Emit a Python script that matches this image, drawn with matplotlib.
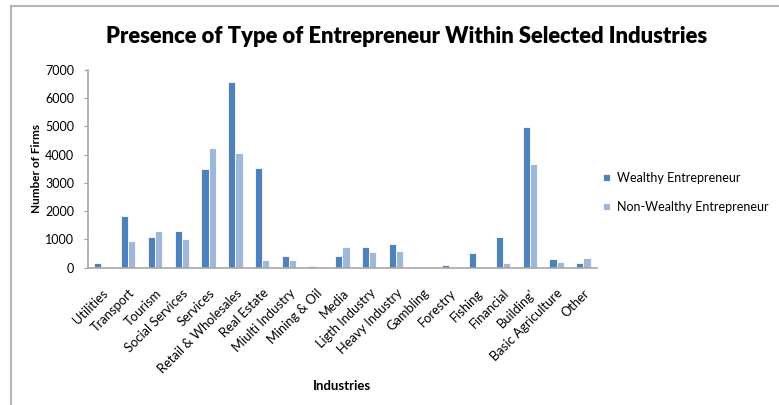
import matplotlib.pyplot as plt
import numpy as np
from matplotlib.lines import Line2D

industries = ['Utilities', 'Transport', 'Tourism', 'Social Services', 'Services',
              'Retail & Wholesales', 'Real Estate', 'Miulti Industry', 'Mining & Oil',
              'Media', 'Ligth Industry', 'Heavy Industry', 'Gambling', 'Forestry',
              'Fishing', 'Financial', "Building'", 'Basic Agriculture', 'Other']
wealthy = [150, 1830, 1090, 1280, 3510, 6560, 3540, 420, 70, 420,
           730, 850, 15, 80, 520, 1070, 4990, 290, 170]
non_wealthy = [0, 930, 1280, 1010, 4250, 4050, 270, 270, 0, 730,
               540, 580, 0, 20, 30, 170, 3670, 210, 350]
series_names = ['Wealthy Entrepreneur', 'Non-Wealthy Entrepreneur']

plt.rcParams['font.family'] = ['Lato', 'DejaVu Sans']

fig = plt.figure(figsize=(7.79, 4.05), dpi=100)
ax = fig.add_axes([0.113, 0.3395, 0.653, 0.4875])

x = np.arange(len(industries))
w = 0.27
dark = '#4f81bd'
light = '#9fb8da'
ax.bar(x - w / 2, wealthy, w, color=dark, edgecolor='white', linewidth=0.6,
       label=series_names[0])
ax.bar(x + w / 2, non_wealthy, w, color=light, edgecolor='white', linewidth=0.6,
       label=series_names[1])

ax.set_xlim(-0.5, len(industries) - 0.5)
ax.set_ylim(0, 7000)
ax.set_yticks(range(0, 7001, 1000))
ax.tick_params(axis='y', labelsize=9, length=3, color='#a0a0a0', pad=7)
ax.set_xticks(x)
ax.set_xticklabels(industries, rotation=45, ha='right', rotation_mode='anchor', fontsize=9.3)
ax.tick_params(axis='x', length=0, pad=14)

for side in ['top', 'right']:
    ax.spines[side].set_visible(False)
for side in ['left', 'bottom']:
    ax.spines[side].set_color('#a8a8a8')
    ax.spines[side].set_linewidth(1.2)

ax.set_ylabel('Number of Firms', fontsize=8.5, fontweight='bold', labelpad=2)
ax.set_xlabel('Industries', fontsize=9.5, fontweight='bold')
ax.xaxis.set_label_coords(0.5, -0.57)

fig.suptitle('Presence of Type of Entrepreneur Within Selected Industries',
             fontsize=15.8, fontweight='heavy', x=0.522, y=0.935)

ax.legend(loc='center left', bbox_to_anchor=(0.99, 0.38), frameon=False,
          fontsize=9, handlelength=0.55, handleheight=0.55, handletextpad=0.6,
          labelspacing=1.35)

# thin page border on top and left
fig.add_artist(Line2D([0.014, 1.0], [0.985, 0.985], color='#b5b5b5', lw=1.5))
fig.add_artist(Line2D([0.014, 0.014], [0.0, 0.985], color='#b5b5b5', lw=1.5))

fig.savefig('out.png', dpi=100)
